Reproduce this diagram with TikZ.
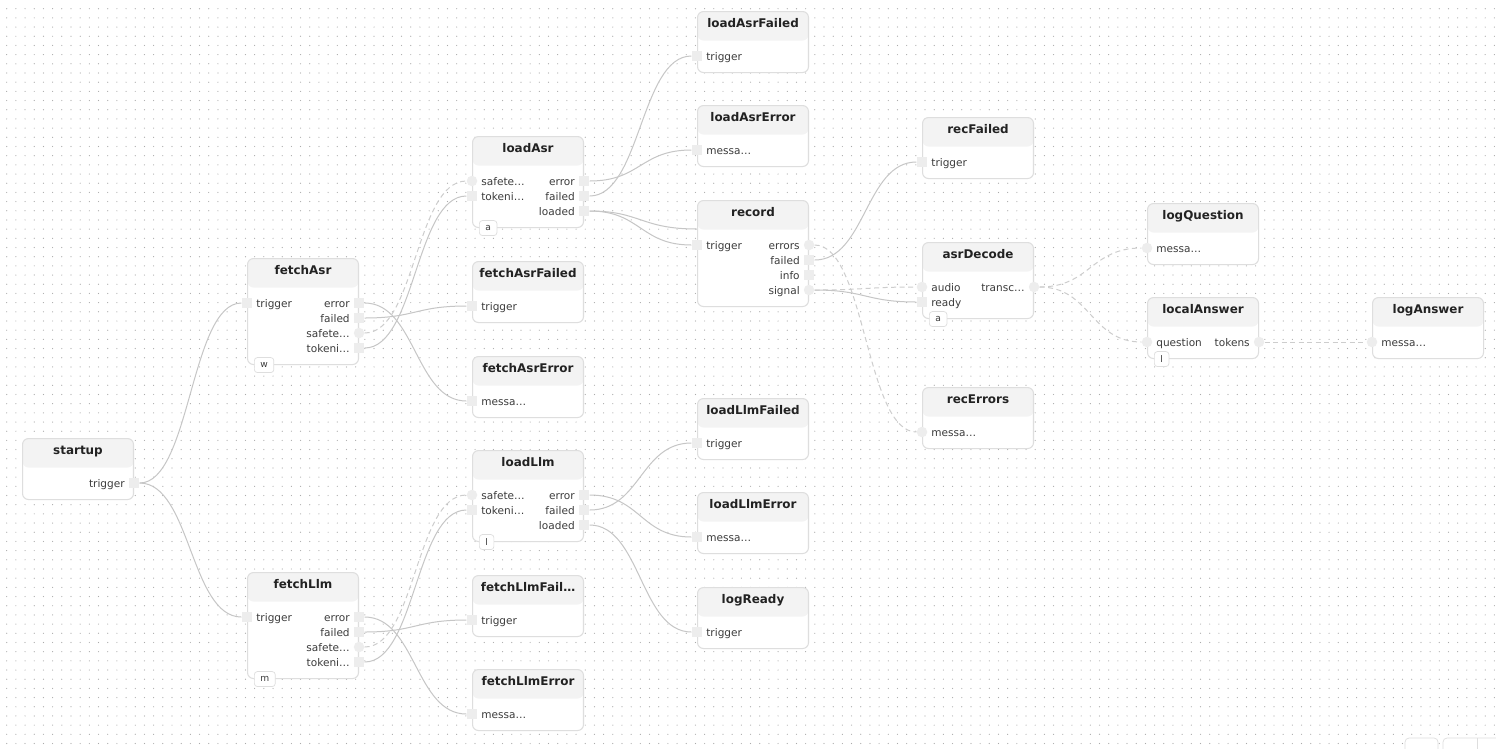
\documentclass[tikz,border=0pt]{standalone}
\usepackage{fontspec}
\setmainfont{DejaVu Sans}
\usepackage{tikz}
\usetikzlibrary{calc}
\usepackage{xcolor}

\definecolor{cardline}{HTML}{DEDEDE}
\definecolor{headfill}{HTML}{F3F3F3}
\definecolor{portfill}{HTML}{EDEDED}
\definecolor{wiregray}{HTML}{C6C6C6}
\definecolor{streamgray}{HTML}{CDCDCD}
\definecolor{titlecol}{HTML}{222222}
\definecolor{labelcol}{HTML}{3C3C3C}
\definecolor{dotcol}{HTML}{ABABAB}

\pgfdeclarelayer{back}
\pgfsetlayers{back,main}

\tikzset{
    card/.style={rectangle, anchor=north west, draw=cardline, line width=0.6pt,
        fill=white, rounded corners=0.12cm, minimum width=2.22cm, inner sep=0pt,
        path picture={\fill[headfill] (path picture bounding box.north west)
            rectangle ([yshift=-0.58cm]path picture bounding box.north east);}},
    cardtitle/.style={anchor=base, inner sep=0pt, text=titlecol,
        font=\fontsize{6.8}{8}\selectfont\bfseries},
    portlabel/.style={inner sep=0pt, text=labelcol, font=\fontsize{6}{7}\selectfont},
    sq/.style={rectangle, fill=portfill, minimum size=0.21cm, inner sep=0pt},
    rd/.style={circle, fill=portfill, minimum size=0.21cm, inner sep=0pt},
    badge/.style={rectangle, anchor=west, draw=cardline, fill=white, rounded corners=0.06cm,
        minimum height=0.3cm, inner xsep=0.12cm, inner ysep=0pt, text=labelcol,
        font=\fontsize{5.2}{6}\selectfont},
    wire/.style={draw=wiregray, line width=0.02cm,
        to path={let \p1=(\tikztostart), \p2=(\tikztotarget) in
            .. controls ({(\x1+\x2)/2},\y1) and ({(\x1+\x2)/2},\y2) .. (\tikztotarget)}},
    stream/.style={wire, draw=streamgray, dash pattern=on 0.1cm off 0.07cm},
    griddots/.style={draw=dotcol, line width=0.024cm, line cap=round,
        dash pattern=on 0pt off 0.1837cm}
}

% card: nome, x, y, linhas, titulo
\newcommand{\card}[5]{%
    \node[card, minimum height={(61+15*(#4-1))*0.02cm}] (#1) at (#2,#3) {};
    \node[cardtitle] (#1-title) at ($(#1.north)+(0,16)$) {#5};}
% portas: card, chave, linha, texto, forma
\newcommand{\inport}[5]{%
    \node[#5] (#1-#2) at ($(#1.north west)+(0,45+15*#3)$) {};
    \node[portlabel, anchor=base west] (#1-#2-txt) at ($(#1-#2)+(9,4)$) {#4};}
\newcommand{\outport}[5]{%
    \node[#5] (#1-#2) at ($(#1.north east)+(0,45+15*#3)$) {};
    \node[portlabel, anchor=base east] (#1-#2-txt) at ($(#1-#2)+(-9,4)$) {#4};}
\newcommand{\cardtag}[2]{%
    \node[badge] (#1-tag) at ($(#1.south west)+(7,0)$) {#2};}

\begin{document}
\begin{tikzpicture}[x=0.02cm, y=-0.02cm]
    \useasboundingbox (0,0) rectangle (1496,748);

    % Fundo
    \begin{pgfonlayer}{back}
        \fill[white] (0,0) rectangle (1496,748);
        \foreach \r in {0,...,81}
            \draw[griddots] (6.7,{8.7+9.185*\r}) -- (1500,{8.7+9.185*\r});
    \end{pgfonlayer}

    % Nós
    \card{startup}{22}{438}{1}{startup}
    \outport{startup}{trigger}{0}{trigger}{sq}

    \card{fetchAsr}{247}{258}{4}{fetchAsr}
    \inport{fetchAsr}{trigger}{0}{trigger}{sq}
    \outport{fetchAsr}{error}{0}{error}{sq}
    \outport{fetchAsr}{failed}{1}{failed}{sq}
    \outport{fetchAsr}{safete}{2}{safete…}{rd}
    \outport{fetchAsr}{tokeni}{3}{tokeni…}{sq}
    \cardtag{fetchAsr}{w}

    \card{fetchLlm}{247}{572}{4}{fetchLlm}
    \inport{fetchLlm}{trigger}{0}{trigger}{sq}
    \outport{fetchLlm}{error}{0}{error}{sq}
    \outport{fetchLlm}{failed}{1}{failed}{sq}
    \outport{fetchLlm}{safete}{2}{safete…}{rd}
    \outport{fetchLlm}{tokeni}{3}{tokeni…}{sq}
    \cardtag{fetchLlm}{m}

    \card{loadAsr}{472}{136}{3}{loadAsr}
    \inport{loadAsr}{safete}{0}{safete…}{rd}
    \inport{loadAsr}{tokeni}{1}{tokeni…}{sq}
    \outport{loadAsr}{error}{0}{error}{sq}
    \outport{loadAsr}{failed}{1}{failed}{sq}
    \outport{loadAsr}{loaded}{2}{loaded}{sq}
    \cardtag{loadAsr}{a}

    \card{fetchAsrFailed}{472}{261}{1}{fetchAsrFailed}
    \inport{fetchAsrFailed}{trigger}{0}{trigger}{sq}

    \card{fetchAsrError}{472}{356}{1}{fetchAsrError}
    \inport{fetchAsrError}{messa}{0}{messa…}{sq}

    \card{loadLlm}{472}{450}{3}{loadLlm}
    \inport{loadLlm}{safete}{0}{safete…}{rd}
    \inport{loadLlm}{tokeni}{1}{tokeni…}{sq}
    \outport{loadLlm}{error}{0}{error}{sq}
    \outport{loadLlm}{failed}{1}{failed}{sq}
    \outport{loadLlm}{loaded}{2}{loaded}{sq}
    \cardtag{loadLlm}{l}

    \card{fetchLlmFailed}{472}{575}{1}{fetchLlmFail…}
    \inport{fetchLlmFailed}{trigger}{0}{trigger}{sq}

    \card{fetchLlmError}{472}{669}{1}{fetchLlmError}
    \inport{fetchLlmError}{messa}{0}{messa…}{sq}

    \card{loadAsrFailed}{697}{11}{1}{loadAsrFailed}
    \inport{loadAsrFailed}{trigger}{0}{trigger}{sq}

    \card{loadAsrError}{697}{105}{1}{loadAsrError}
    \inport{loadAsrError}{messa}{0}{messa…}{sq}

    \card{record}{697}{200}{4}{record}
    \inport{record}{trigger}{0}{trigger}{sq}
    \outport{record}{errors}{0}{errors}{rd}
    \outport{record}{failed}{1}{failed}{sq}
    \outport{record}{info}{2}{info}{sq}
    \outport{record}{signal}{3}{signal}{rd}
    \coordinate (record-hidden) at ($(record.north west)+(0,29)$);

    \card{loadLlmFailed}{697}{398}{1}{loadLlmFailed}
    \inport{loadLlmFailed}{trigger}{0}{trigger}{sq}

    \card{loadLlmError}{697}{492}{1}{loadLlmError}
    \inport{loadLlmError}{messa}{0}{messa…}{sq}

    \card{logReady}{697}{587}{1}{logReady}
    \inport{logReady}{trigger}{0}{trigger}{sq}

    \card{recFailed}{922}{117}{1}{recFailed}
    \inport{recFailed}{trigger}{0}{trigger}{sq}

    \card{asrDecode}{922}{242}{2}{asrDecode}
    \inport{asrDecode}{audio}{0}{audio}{rd}
    \inport{asrDecode}{ready}{1}{ready}{sq}
    \outport{asrDecode}{transc}{0}{transc…}{rd}
    \cardtag{asrDecode}{a}

    \card{recErrors}{922}{387}{1}{recErrors}
    \inport{recErrors}{messa}{0}{messa…}{rd}

    \card{logQuestion}{1147}{203}{1}{logQuestion}
    \inport{logQuestion}{messa}{0}{messa…}{rd}

    \card{localAnswer}{1147}{297}{1}{localAnswer}
    \inport{localAnswer}{question}{0}{question}{rd}
    \outport{localAnswer}{tokens}{0}{tokens}{rd}
    \cardtag{localAnswer}{l}

    \card{logAnswer}{1372}{297}{1}{logAnswer}
    \inport{logAnswer}{messa}{0}{messa…}{rd}

    % Controles (canto)
    \draw[cardline, fill=white, rounded corners=0.08cm] (1405,738) rectangle (1438,770);
    \draw[cardline, fill=white, rounded corners=0.08cm] (1443,738) rectangle (1520,770);
    \draw[cardline] (1477,738) -- (1477,770);

    % Arestas
    \begin{pgfonlayer}{back}
        \draw[wire] (startup-trigger) to (fetchAsr-trigger);
        \draw[wire] (startup-trigger) to (fetchLlm-trigger);

        \draw[wire] (fetchAsr-error) to (fetchAsrError-messa);
        \draw[wire] (fetchAsr-failed) to (fetchAsrFailed-trigger);
        \draw[stream] (fetchAsr-safete) to (loadAsr-safete);
        \draw[wire] (fetchAsr-tokeni) to (loadAsr-tokeni);

        \draw[wire] (fetchLlm-error) to (fetchLlmError-messa);
        \draw[wire] (fetchLlm-failed) to (fetchLlmFailed-trigger);
        \draw[stream] (fetchLlm-safete) to (loadLlm-safete);
        \draw[wire] (fetchLlm-tokeni) to (loadLlm-tokeni);

        \draw[wire] (loadAsr-error) to (loadAsrError-messa);
        \draw[wire] (loadAsr-failed) to (loadAsrFailed-trigger);
        \draw[wire] (loadAsr-loaded) to (record-trigger);
        \draw[wire] (loadAsr-loaded) to (record-hidden);

        \draw[wire] (loadLlm-error) to (loadLlmError-messa);
        \draw[wire] (loadLlm-failed) to (loadLlmFailed-trigger);
        \draw[wire] (loadLlm-loaded) to (logReady-trigger);

        \draw[stream] (record-errors) to (recErrors-messa);
        \draw[wire] (record-failed) to (recFailed-trigger);
        \draw[stream] (record-signal) to (asrDecode-audio);
        \draw[wire] (record-signal) to (asrDecode-ready);

        \draw[stream] (asrDecode-transc) to (logQuestion-messa);
        \draw[stream] (asrDecode-transc) to (localAnswer-question);
        \draw[stream] (localAnswer-tokens) to (logAnswer-messa);
    \end{pgfonlayer}
\end{tikzpicture}
\end{document}
